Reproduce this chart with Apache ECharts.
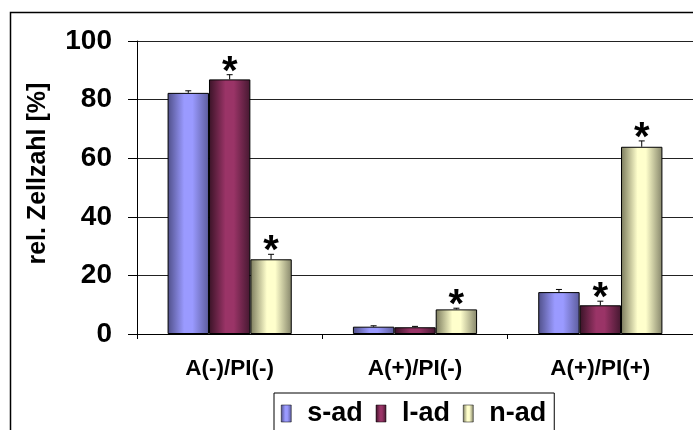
<!DOCTYPE html>
<html><head><meta charset="utf-8">
<script src="https://cdn.jsdelivr.net/npm/echarts@6/dist/echarts.min.js"></script>
<style>html,body{margin:0;padding:0;background:#fff}#c{width:693px;height:430px}</style>
</head><body><div id="c"></div>
<script>
var categories = ['A(-)/PI(-)', 'A(+)/PI(-)', 'A(+)/PI(+)'];
var seriesNames = ['s-ad', 'l-ad', 'n-ad'];
var sAd = [82.3, 2.5, 14.3];
var lAd = [86.9, 2.3, 9.8];
var nAd = [25.5, 8.4, 63.9];
var sAdErr = [0.7, 0.3, 0.9];
var lAdErr = [1.6, 0.3, 1.4];
var nAdErr = [1.7, 0.4, 2.0];
var sAdSig = [0, 0, 0];
var lAdSig = [1, 0, 1];
var nAdSig = [1, 1, 1];
var yTicks = [0, 20, 40, 60, 80, 100];

var FONT = '"Liberation Sans", Arial, sans-serif';
function grad(edgeL, mid, edgeR) {
  return new echarts.graphic.LinearGradient(0, 0, 1, 0, [
    {offset: 0, color: edgeL}, {offset: 0.4, color: mid},
    {offset: 0.6, color: mid}, {offset: 1, color: edgeR}]);
}
var fills = [
  grad('#4f4f88', '#9a9aff', '#5c5c9c'),
  grad('#3a1327', '#9a3467', '#451830'),
  grad('#7a7a5c', '#ffffcc', '#85856a')
];
var values = [sAd, lAd, nAd];
var errs = [sAdErr, lAdErr, nAdErr];
var sigs = [sAdSig, lAdSig, nAdSig];
var GAP = 0.33;

var series = [];
values.forEach(function (v, i) {
  series.push({
    name: seriesNames[i], type: 'bar', data: v,
    barGap: '0%', barCategoryGap: (GAP * 100) + '%',
    itemStyle: {color: fills[i], borderColor: '#000', borderWidth: 1},
    z: 2
  });
});
values.forEach(function (v, i) {
  series.push({
    type: 'custom', z: 5, silent: true,
    data: v.map(function (val, k) { return [k, val, errs[i][k], sigs[i][k]]; }),
    renderItem: function (params, api) {
      var band = api.size([1, 0])[0];
      var bw = band * (1 - GAP) / 3;
      var base = api.coord([api.value(0), api.value(1)]);
      var x = base[0] + (i - 1) * bw;
      var top = api.coord([api.value(0), api.value(1) + api.value(2)])[1];
      var kids = [
        {type: 'line', shape: {x1: x, y1: base[1], x2: x, y2: top}, style: {stroke: '#000', lineWidth: 1}},
        {type: 'line', shape: {x1: x - 3, y1: top, x2: x + 3, y2: top}, style: {stroke: '#000', lineWidth: 1}}
      ];
      if (api.value(3)) {
        kids.push({type: 'text', x: x, y: top - 2,
          style: {text: '*', font: 'bold 40px ' + FONT, fill: '#000', align: 'center', verticalAlign: 'middle'}});
      }
      return {type: 'group', children: kids};
    }
  });
});

var chart = echarts.init(document.getElementById('c'), null, {renderer: 'canvas'});
chart.setOption({
  animation: false,
  backgroundColor: '#fff',
  graphic: [{type: 'rect', left: 8, top: 10, shape: {width: 700, height: 440},
    style: {fill: 'none', stroke: '#000', lineWidth: 1.5}, z: 100, silent: true}],
  grid: {left: 137, top: 41, width: 557, height: 293, containLabel: false},
  legend: {
    data: seriesNames, left: 274, top: 393,
    icon: 'rect', itemWidth: 10, itemHeight: 17, itemGap: 13,
    padding: [7, 8, 40, 7],
    borderColor: '#000', borderWidth: 1, backgroundColor: '#fff',
    textStyle: {fontFamily: FONT, fontWeight: 'bold', fontSize: 27, color: '#000', lineHeight: 27, padding: [0, 0, 0, 11]},
    itemStyle: {borderColor: '#000', borderWidth: 0.5}
  },
  xAxis: {
    type: 'category', data: categories,
    axisLine: {lineStyle: {color: '#000', width: 1}},
    axisTick: {show: true, length: 5, lineStyle: {color: '#000'}},
    axisLabel: {fontFamily: FONT, fontWeight: 'bold', fontSize: 22.5, color: '#000', margin: 23},
    splitLine: {show: false}
  },
  yAxis: {
    type: 'value', min: yTicks[0], max: yTicks[yTicks.length - 1], interval: yTicks[1] - yTicks[0],
    name: '\u00a0\u00a0\u00a0\u00a0rel. Zellzahl [%]', nameLocation: 'middle', nameRotate: 90, nameGap: 86,
    nameTextStyle: {fontFamily: FONT, fontWeight: 'bold', fontSize: 25, color: '#000'},
    axisLine: {show: true, lineStyle: {color: '#000', width: 1}},
    axisTick: {show: true, length: 9, lineStyle: {color: '#000'}},
    axisLabel: {fontFamily: FONT, fontWeight: 'bold', fontSize: 28, color: '#000', margin: 25},
    splitLine: {show: true, lineStyle: {color: '#222', width: 1}}
  },
  series: series
});
</script></body></html>
